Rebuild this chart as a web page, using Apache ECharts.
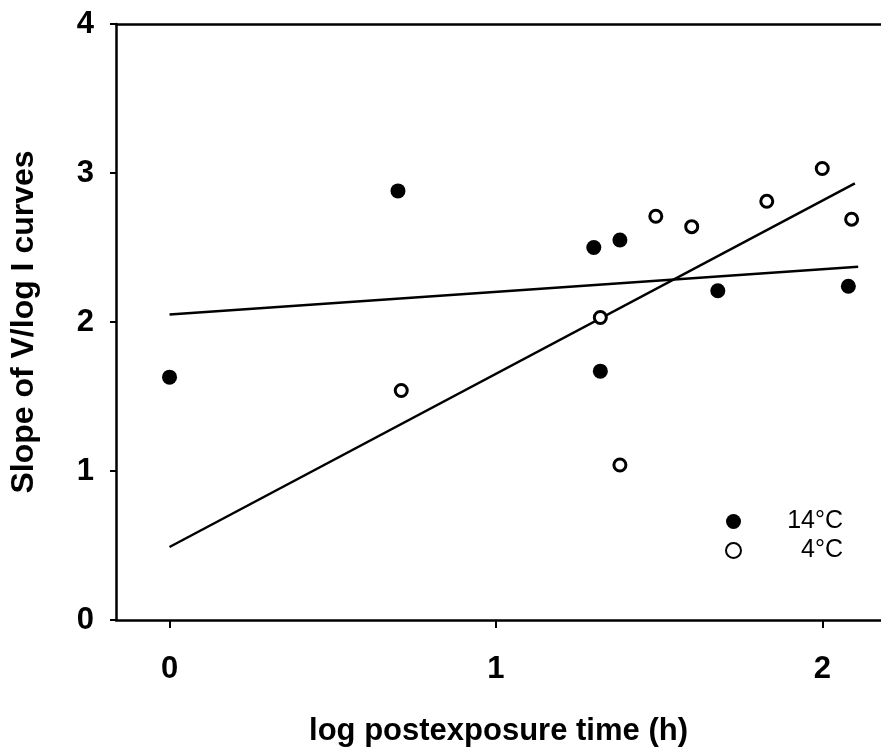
<!DOCTYPE html>
<html>
<head>
<meta charset="utf-8">
<script src="https://cdn.jsdelivr.net/npm/echarts@6/dist/echarts.min.js"></script>
<style>
html,body{margin:0;padding:0;background:#fff;}
#chart{width:881px;height:748px;}
</style>
</head>
<body>
<div id="chart"></div>
<script>
// ---- data ----
const xTickValues = [0, 1, 2];
const yTickValues = [0, 1, 2, 3, 4];

const seriesNames = ['14°C', '4°C'];

const time14 = [0, 0.70, 1.30, 1.38, 1.32, 1.68, 2.08];
const slope14 = [1.63, 2.88, 2.50, 2.55, 1.67, 2.21, 2.24];

const time4 = [0.71, 1.32, 1.38, 1.49, 1.60, 1.83, 2.00, 2.09];
const slope4 = [1.54, 2.03, 1.04, 2.71, 2.64, 2.81, 3.03, 2.69];

const fit14X = [0, 2.11];
const fit14Y = [2.05, 2.37];
const fit4X = [0, 2.10];
const fit4Y = [0.49, 2.93];

const xTitle = 'log postexposure time (h)';
const yTitle = 'Slope of V/log I curves';

// ---- chart ----
const zip = (a, b) => a.map((v, i) => [v, b[i]]);
const FONT = 'Liberation Sans, Arial, Helvetica, sans-serif';
const chart = echarts.init(document.getElementById('chart'), null, {renderer: 'canvas'});

chart.setOption({
  animation: false,
  backgroundColor: '#fff',
  grid: {left: 116, top: 24, width: 765, height: 596, show: false, containLabel: false, outerBoundsMode: 'none'},
  legend: {
    data: seriesNames,
    orient: 'vertical',
    left: 720,
    top: 504,
    itemWidth: 15,
    itemHeight: 15,
    itemGap: 4,
    selectedMode: false,
    formatter: function (name) { return '{t|' + name + '}'; },
    textStyle: {
      fontFamily: FONT, fontSize: 25, color: '#000',
      rich: {t: {fontFamily: FONT, fontSize: 25, color: '#000', width: 97, align: 'right'}}
    }
  },
  xAxis: [{
    type: 'value',
    min: -0.164,
    max: 2.18,
    position: 'bottom',
    name: xTitle,
    nameLocation: 'middle',
    nameGap: 96,
    nameTextStyle: {fontFamily: FONT, fontSize: 31, fontWeight: 'bold', color: '#000'},
    axisLine: {show: true, onZero: false, lineStyle: {color: '#000', width: 2.5}},
    axisTick: {show: true, customValues: xTickValues, length: 8, lineStyle: {color: '#000', width: 2}},
    axisLabel: {show: true, customValues: xTickValues, margin: 34, fontFamily: FONT, fontSize: 31, fontWeight: 'bold', color: '#000'},
    splitLine: {show: false}
  }, {
    type: 'value',
    min: -0.164,
    max: 2.18,
    position: 'top',
    axisLine: {show: true, onZero: false, lineStyle: {color: '#000', width: 2.5}},
    axisTick: {show: false},
    axisLabel: {show: false},
    splitLine: {show: false}
  }],
  yAxis: {
    type: 'value',
    min: 0,
    max: 4,
    interval: 1,
    name: yTitle,
    nameLocation: 'middle',
    nameGap: 76,
    nameRotate: 90,
    nameTextStyle: {fontFamily: FONT, fontSize: 32, fontWeight: 'bold', color: '#000'},
    axisLine: {show: true, onZero: false, lineStyle: {color: '#000', width: 2.5}},
    axisTick: {show: true, length: 6, lineStyle: {color: '#000', width: 2}},
    axisLabel: {margin: 22, fontFamily: FONT, fontSize: 31, fontWeight: 'bold', color: '#000'},
    splitLine: {show: false}
  },
  series: [
    {
      name: 'fit14', type: 'line', data: zip(fit14X, fit14Y),
      symbol: 'none', lineStyle: {color: '#000', width: 2.5}, z: 2, silent: true
    },
    {
      name: 'fit4', type: 'line', data: zip(fit4X, fit4Y),
      symbol: 'none', lineStyle: {color: '#000', width: 2.5}, z: 2, silent: true
    },
    {
      name: seriesNames[0], type: 'scatter', data: zip(time14, slope14),
      symbol: 'circle', symbolSize: 15,
      itemStyle: {color: '#000', opacity: 1}, z: 5
    },
    {
      name: seriesNames[1], type: 'scatter', data: zip(time4, slope4),
      symbol: 'circle', symbolSize: 12,
      itemStyle: {color: '#fff', borderColor: '#000', borderWidth: 3, opacity: 1}, z: 6
    }
  ]
});
</script>
</body>
</html>
